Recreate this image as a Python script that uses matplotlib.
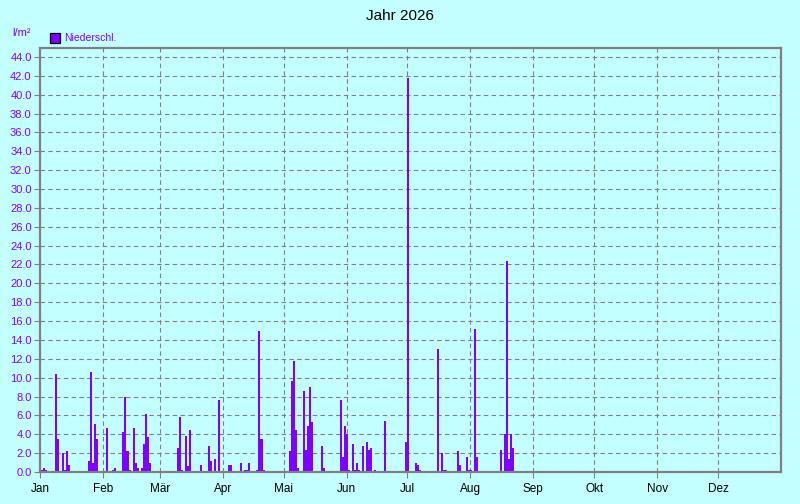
import matplotlib
matplotlib.use("Agg")
import matplotlib.pyplot as plt
from matplotlib.patches import Rectangle
import numpy as np

plt.rcParams['font.family'] = ['Liberation Sans', 'DejaVu Sans']

title = "Jahr 2026"
unit_label = "l/m²"
series_name = "Niederschl."
month_labels = ["Jan", "Feb", "Mär", "Apr", "Mai", "Jun", "Jul", "Aug", "Sep", "Okt", "Nov", "Dez"]
month_lengths = [31, 28, 31, 30, 31, 30, 31, 31, 30, 31, 30, 31]

# day of year (0 = 1 Jan) and daily precipitation in l/m²
rain_days = [0, 1, 2, 7, 8, 10, 11, 12, 13, 23, 24, 25, 26, 27,
             32, 35, 36, 40, 41, 42, 43, 45, 46, 47, 49, 50, 51, 52, 53,
             67, 68, 69, 71, 72, 73, 78, 82, 83, 85, 87,
             92, 93, 98, 100, 101, 102, 106, 107, 108, 109,
             122, 123, 124, 125, 126, 129, 130, 131, 132, 133, 138, 139,
             147, 148, 149, 150, 151,
             153, 154, 155, 156, 158, 160, 161, 162, 164, 169, 179, 180,
             184, 185, 186, 195, 197, 198, 199, 205, 206, 209, 210, 211,
             213, 214, 226, 228, 229, 230, 231, 232]
rain_values = [0.2, 0.4, 0.2, 10.4, 3.5, 2.0, 0.2, 2.2, 0.7, 1.2, 10.6, 1.0, 5.1, 3.5,
               4.7, 0.2, 0.4, 4.2, 8.0, 2.2, 0.2, 4.7, 1.0, 0.4, 0.4, 3.0, 6.2, 3.7, 1.0,
               2.5, 5.8, 0.2, 3.8, 0.6, 4.4, 0.7, 2.8, 1.2, 1.4, 7.6,
               0.7, 0.7, 1.0, 0.2, 0.2, 1.0, 0.2, 15.0, 3.5, 0.2,
               2.2, 9.6, 11.8, 4.4, 0.4, 8.6, 2.3, 4.9, 9.0, 5.3, 2.8, 0.4,
               7.6, 1.6, 4.9, 4.0, 0.2,
               3.0, 0.2, 1.0, 0.2, 2.8, 3.2, 2.3, 2.5, 0.2, 5.4, 3.2, 41.8,
               1.0, 0.7, 0.2, 13.0, 2.0, 0.2, 0.2, 2.2, 0.7, 1.6, 0.2, 0.2,
               15.2, 1.6, 2.3, 4.0, 22.4, 1.4, 4.0, 2.5]
y_ticks = np.arange(0, 44.1, 2.0)

bg = '#C4FFFF'
purple = '#8000FF'
gray = '#808080'

fig = plt.figure(figsize=(8, 5.04), dpi=100, facecolor=bg)
ax = fig.add_axes([40/800, 1-472/504, 741/800, (472-48)/504])
ax.set_facecolor(bg)

x = np.array(rain_days) + 0.6
ax.bar(x, rain_values, width=1.0, align='edge', color=purple, linewidth=0,
       antialiased=False, zorder=3)

month_starts = np.concatenate([[0], np.cumsum(month_lengths)[:-1]])
ax.set_xlim(0, 365)
ax.set_ylim(0, 44.95)
ax.set_xticks(month_starts)
ax.set_xticklabels(month_labels, fontsize=8.5, color='black')
ax.set_yticks(y_ticks)
ax.set_yticklabels([f"{v:.1f}" for v in y_ticks], fontsize=8, color=purple)

ax.grid(True, color=gray, linestyle=(0, (4, 3)), linewidth=0.8, zorder=1)
ax.tick_params(axis='both', colors=gray, length=4, width=0.8)
ax.tick_params(axis='y', labelcolor=purple, pad=2)
ax.tick_params(axis='x', labelcolor='black', pad=4)
for s in ax.spines.values():
    s.set_color(gray)
    s.set_linewidth(1.6)
    s.set_zorder(4)

fig.text(0.5, 1-16/504, title, ha='center', va='center', fontsize=11, color='black')
fig.text(12/800, 1-33/504, unit_label, ha='left', va='center', fontsize=8, color=purple)
fig.add_artist(Rectangle((50/800, 1-43/504), 10/800, 10/504, transform=fig.transFigure,
                         facecolor=purple, edgecolor='black', linewidth=0.9))
fig.text(64/800, 1-38/504, series_name, ha='left', va='center', fontsize=7.5, color=purple)

fig.savefig('out.png', dpi=100, facecolor=bg)
